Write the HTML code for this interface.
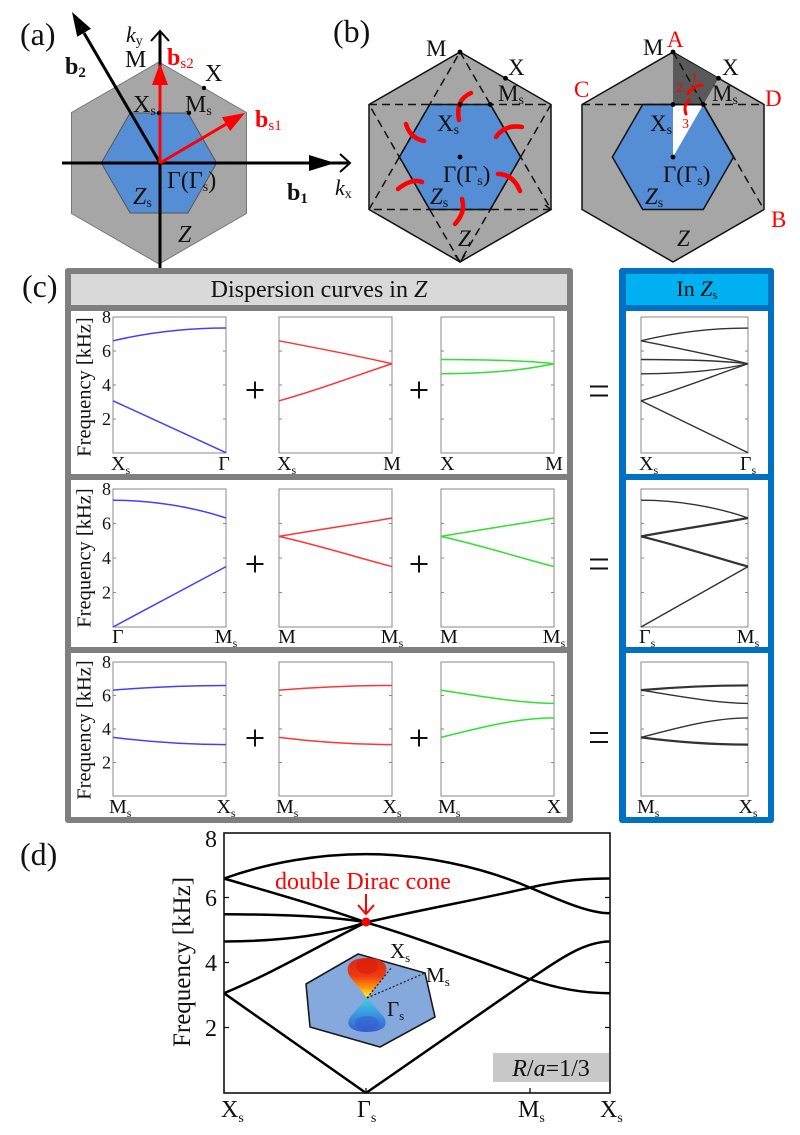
<!DOCTYPE html>
<html><head><meta charset="utf-8"><style>
html,body{margin:0;padding:0;background:#fff;}
svg{display:block;}
text{font-family:"Liberation Serif","Times New Roman",serif;fill:#111;}
</style></head><body>
<svg width="800" height="1135" viewBox="0 0 800 1135" xmlns="http://www.w3.org/2000/svg">
<defs>
<linearGradient id="gUp" x1="0" y1="0" x2="0" y2="1">
<stop offset="0" stop-color="#d82a18"/><stop offset="0.45" stop-color="#ee3a10"/><stop offset="0.75" stop-color="#ff9a10"/><stop offset="1" stop-color="#ffff30"/>
</linearGradient>
<linearGradient id="gDn" x1="0" y1="0" x2="0" y2="1">
<stop offset="0" stop-color="#40d0d8"/><stop offset="0.4" stop-color="#3aa0e0"/><stop offset="1" stop-color="#3a5ad0"/>
</linearGradient>
</defs>
<rect width="800" height="1135" fill="#fff"/>

<!-- ============ (a) ============ -->
<polygon points="159,62 246.5,112.5 246.5,213.5 159,264 71.5,213.5 71.5,112.5" fill="#a6a6a6" stroke="#777" stroke-width="1"/>
<polygon points="216.7,163 187.9,113 130.1,113 101.3,163 130.1,213 187.9,213" fill="#558ed5" stroke="#555" stroke-width="1"/>
<line x1="62" y1="163" x2="348" y2="163" stroke="#000" stroke-width="3"/>
<polygon points="335,163 309,155 309,171" fill="#000"/>
<polyline points="340,154 350,163 340,172" fill="none" stroke="#000" stroke-width="2"/>
<line x1="160" y1="268" x2="160" y2="32" stroke="#000" stroke-width="3"/>
<polyline points="151,41 160,31 169,41" fill="none" stroke="#000" stroke-width="2"/>
<line x1="160" y1="163" x2="84" y2="33" stroke="#000" stroke-width="3"/>
<polygon points="72,12 91,28.7 77.2,36.7" fill="#000"/>
<line x1="160" y1="163" x2="160" y2="84" stroke="#f00" stroke-width="3"/>
<polygon points="160,63 152,85 168,85" fill="#f00"/>
<line x1="160" y1="163" x2="226" y2="124.2" stroke="#f00" stroke-width="3"/>
<polygon points="245,113 230.1,131.1 221.9,117.3" fill="#f00"/>
<circle cx="204" cy="88" r="2.2" fill="#000"/>
<circle cx="159" cy="113" r="2.2" fill="#000"/>
<circle cx="189" cy="113" r="2.2" fill="#000"/>

<text x="20" y="45" font-size="32">(a)</text>
<text x="65" y="74" font-size="24" font-weight="bold">b<tspan font-size="15" dy="3">2</tspan></text>
<text x="126" y="42" font-size="22" font-style="italic">k<tspan font-size="14" dy="3" font-style="normal">y</tspan></text>
<text x="125" y="67" font-size="24">M</text>
<text x="167" y="65" font-size="24" font-weight="bold" style="fill:#f00">b<tspan font-size="15" dy="3" font-weight="normal">s2</tspan></text>
<text x="205" y="81" font-size="24">X</text>
<text x="133" y="112" font-size="24">X<tspan font-size="14" dy="3">s</tspan></text>
<text x="185" y="112" font-size="24">M<tspan font-size="14" dy="3">s</tspan></text>
<text x="255" y="127" font-size="24" font-weight="bold" style="fill:#f00">b<tspan font-size="15" dy="3" font-weight="normal">s1</tspan></text>
<text x="167" y="188" font-size="24">Γ(Γ<tspan font-size="14" dy="3">s</tspan><tspan dy="-3">)</tspan></text>
<text x="287" y="200" font-size="24" font-weight="bold">b<tspan font-size="15" dy="3">1</tspan></text>
<text x="335" y="195" font-size="22" font-style="italic">k<tspan font-size="14" dy="3" font-style="normal">x</tspan></text>
<text x="133" y="204" font-size="24" font-style="italic">Z<tspan font-size="14" dy="3" font-style="normal">s</tspan></text>
<text x="178" y="242" font-size="24" font-style="italic">Z</text>

<!-- ============ (b) left ============ -->
<polygon points="460,52 551,104.5 551,209.5 460,262 369,209.5 369,104.5" fill="#a6a6a6" stroke="#111" stroke-width="1.5"/>
<polygon points="520.6,157 490.3,104.5 429.7,104.5 399.4,157 429.7,209.5 490.3,209.5" fill="#558ed5" stroke="#111" stroke-width="1.5"/>
<g fill="none" stroke="#111" stroke-width="1.5" stroke-dasharray="8,5">
<polygon points="460,52 551,209.5 369,209.5"/>
<polygon points="369,104.5 551,104.5 460,262"/>
</g>
<polyline points="545,205 551,209.5 545,213" fill="none" stroke="#111" stroke-width="1.5"/>
<polyline points="455,255 460,262 465,255" fill="none" stroke="#111" stroke-width="1.5"/>
<g fill="none" stroke="#f00" stroke-width="4.5" stroke-linecap="round">
<path d="M471,93 Q455,100 459,120"/>
<path d="M406,124 Q410,138 424,141"/>
<path d="M496,137 Q505,124 522,127"/>
<path d="M398,189 Q412,178 422,182"/>
<path d="M498,174 Q513,174 520,191"/>
<path d="M455,224 Q466,212 462,199"/>
</g>
<g fill="#000">
<circle cx="460" cy="52" r="2.4"/><circle cx="505.5" cy="78.25" r="2.4"/>
<circle cx="490.3" cy="104.5" r="2.4"/><circle cx="460" cy="104.5" r="2.4"/>
<circle cx="460" cy="157" r="2.4"/>
</g>
<text x="333" y="42" font-size="32">(b)</text>
<text x="426" y="56" font-size="23">M</text>
<text x="508" y="75" font-size="23">X</text>
<text x="498" y="101" font-size="23">M<tspan font-size="14" dy="3">s</tspan></text>
<text x="437" y="131" font-size="23">X<tspan font-size="14" dy="3">s</tspan></text>
<text x="443" y="182" font-size="23">Γ(Γ<tspan font-size="14" dy="3">s</tspan><tspan dy="-3">)</tspan></text>
<text x="430" y="204" font-size="23" font-style="italic">Z<tspan font-size="14" dy="3" font-style="normal">s</tspan></text>
<text x="458" y="246" font-size="23" font-style="italic">Z</text>

<!-- ============ (b) right ============ -->
<polygon points="673,52 764,104.5 764,209.5 673,262 582,209.5 582,104.5" fill="#a6a6a6" stroke="#111" stroke-width="1.5"/>
<polygon points="733.6,157 703.3,104.5 642.7,104.5 612.4,157 642.7,209.5 703.3,209.5" fill="#558ed5" stroke="#111" stroke-width="1.5"/>
<polygon points="673,157 673,105.5 702.7,105.5" fill="#fff"/>
<polygon points="673,52.5 718.5,78.25 703.3,104.5 673,104.5" fill="#595959"/>
<g fill="none" stroke="#111" stroke-width="1.5" stroke-dasharray="8,5">
<line x1="582" y1="104.5" x2="764" y2="104.5"/>
<line x1="673" y1="52" x2="764" y2="209.5"/>
</g>
<line x1="642.7" y1="104.5" x2="703.3" y2="104.5" stroke="#111" stroke-width="1.5"/>
<line x1="703.3" y1="104.5" x2="733.6" y2="157" stroke="#111" stroke-width="1.5"/>
<g fill="none" stroke="#f00" stroke-width="3" stroke-linecap="round">
<path d="M688,94 Q692,86 702,85"/>
<path d="M689,100 Q683,106 686,114"/>
</g>
<g fill="#000">
<circle cx="673" cy="52" r="2.4"/><circle cx="718.5" cy="78.25" r="2.4"/>
<circle cx="703.3" cy="104.5" r="2.4"/><circle cx="673" cy="104.5" r="2.4"/>
<circle cx="673" cy="157" r="2.4"/>
</g>
<text x="643" y="55" font-size="23">M</text>
<text x="722" y="75" font-size="23">X</text>
<text x="712" y="101" font-size="23">M<tspan font-size="14" dy="3">s</tspan></text>
<text x="650" y="131" font-size="23">X<tspan font-size="14" dy="3">s</tspan></text>
<text x="663" y="182" font-size="23">Γ(Γ<tspan font-size="14" dy="3">s</tspan><tspan dy="-3">)</tspan></text>
<text x="645" y="204" font-size="23" font-style="italic">Z<tspan font-size="14" dy="3" font-style="normal">s</tspan></text>
<text x="677" y="246" font-size="23" font-style="italic">Z</text>
<g font-size="23" style="fill:#f00">
<text x="667" y="47" style="fill:#f00">A</text>
<text x="574" y="97" style="fill:#f00">C</text>
<text x="765" y="106" style="fill:#f00">D</text>
<text x="771" y="227" style="fill:#f00">B</text>
</g>
<text x="691" y="82" font-size="14" style="fill:#f00">1</text>
<text x="676" y="92" font-size="14" style="fill:#f00">2</text>
<text x="682" y="128" font-size="14" style="fill:#f00">3</text>

<!-- ============ (c) ============ -->
<text x="22" y="297" font-size="32">(c)</text>
<rect x="65" y="268" width="508" height="555" rx="3" fill="#7f7f7f"/>
<rect x="71" y="274" width="496" height="31" fill="#d9d9d9"/>
<rect x="71" y="311" width="496" height="163" fill="#fff"/>
<rect x="71" y="480" width="496" height="167" fill="#fff"/>
<rect x="71" y="653" width="496" height="164" fill="#fff"/>
<rect x="619" y="268" width="155" height="555" rx="3" fill="#0070c0"/>
<rect x="626" y="274" width="142" height="31" fill="#00b0f0"/>
<rect x="626" y="311" width="142" height="163" fill="#fff"/>
<rect x="626" y="480" width="142" height="167" fill="#fff"/>
<rect x="626" y="653" width="142" height="164" fill="#fff"/>
<text x="319" y="297" font-size="24" text-anchor="middle">Dispersion curves in <tspan font-style="italic">Z</tspan></text>
<text x="697" y="296" font-size="22" text-anchor="middle">In <tspan font-style="italic">Z</tspan><tspan font-size="13" dy="3">s</tspan></text>

<g fill="none" stroke="#8a8a8a" stroke-width="1">
<rect x="113" y="317" width="113" height="136"/><rect x="279" y="317" width="113" height="136"/>
<rect x="441" y="317" width="113" height="136"/><rect x="641" y="317" width="107" height="136"/>
<rect x="113" y="489" width="113" height="138"/><rect x="279" y="489" width="113" height="138"/>
<rect x="441" y="489" width="113" height="138"/><rect x="641" y="489" width="107" height="138"/>
<rect x="113" y="662" width="113" height="134"/><rect x="279" y="662" width="113" height="134"/>
<rect x="441" y="662" width="113" height="134"/><rect x="641" y="662" width="107" height="134"/>
</g>
<g stroke="#8a8a8a" stroke-width="1">
<path d="M113,419h3M113,385h3M113,351h3M226,419h-3M226,385h-3M226,351h-3
M279,419h3M279,385h3M279,351h3M392,419h-3M392,385h-3M392,351h-3
M441,419h3M441,385h3M441,351h3M554,419h-3M554,385h-3M554,351h-3
M641,419h3M641,385h3M641,351h3M748,419h-3M748,385h-3M748,351h-3"/>
<path d="M113,592.5h3M113,558h3M113,523.5h3M226,592.5h-3M226,558h-3M226,523.5h-3
M279,592.5h3M279,558h3M279,523.5h3M392,592.5h-3M392,558h-3M392,523.5h-3
M441,592.5h3M441,558h3M441,523.5h3M554,592.5h-3M554,558h-3M554,523.5h-3
M641,592.5h3M641,558h3M641,523.5h3M748,592.5h-3M748,558h-3M748,523.5h-3"/>
<path d="M113,762.5h3M113,729h3M113,695.5h3M226,762.5h-3M226,729h-3M226,695.5h-3
M279,762.5h3M279,729h3M279,695.5h3M392,762.5h-3M392,729h-3M392,695.5h-3
M441,762.5h3M441,729h3M441,695.5h3M554,762.5h-3M554,729h-3M554,695.5h-3
M641,762.5h3M641,729h3M641,695.5h3M748,762.5h-3M748,729h-3M748,695.5h-3"/>
</g>

<g fill="none" stroke-width="1.5">
<path stroke="#4040ff" d="M113,340.8 C149.6,332.3 189.4,328.05 226,328.05"/>
<path stroke="#4040ff" d="M113,400.8 L226,452.7"/>
<path stroke="#ff3535" d="M279,340.8 C315.6,347.85 355.4,355.2 392,363.75"/>
<path stroke="#ff3535" d="M279,400.8 C319.6,389.7 355.4,375.6 392,363.75"/>
<path stroke="#30e030" d="M441,359.5 C485.5,359.6 525.3,360.4 554,363.75"/>
<path stroke="#30e030" d="M441,373.8 C493.5,373.5 525.3,369.8 554,363.75"/>
</g>
<g fill="none" stroke="#333" stroke-width="1.4">
<path d="M641,340.8 C675.7,332.3 713.3,328.05 748,328.05"/>
<path d="M641,340.8 C675.7,347.85 713.3,355.2 748,363.75"/>
<path d="M641,359.5 C683.2,359.6 720.8,360.4 748,363.75"/>
<path d="M641,373.8 C690.8,373.5 720.8,369.8 748,363.75"/>
<path d="M641,400.8 C679.4,389.7 713.3,375.6 748,363.75"/>
<path d="M641,400.8 L748,452.7"/>
</g>
<g fill="none" stroke-width="1.5">
<path stroke="#4040ff" d="M113,500.2 C150.2,500.2 191.5,506.5 226,518"/>
<path stroke="#4040ff" d="M113,627 L226,566.6"/>
<path stroke="#ff3535" d="M279,536.4 C316.2,529.9 357.5,524 392,518"/>
<path stroke="#ff3535" d="M279,536.4 C316.2,544.7 357.5,557.5 392,566.6"/>
<path stroke="#30e030" d="M441,536.4 C478.2,529.9 519.5,524 554,518"/>
<path stroke="#30e030" d="M441,536.4 C478.2,544.7 519.5,557.5 554,566.6"/>
</g>
<g fill="none" stroke="#333">
<path stroke-width="1.4" d="M641,500.2 C676.2,500.2 715.4,506.5 748,518"/>
<path stroke-width="2.2" d="M641,536.4 C676.2,529.9 715.4,524 748,518"/>
<path stroke-width="2.2" d="M641,536.4 C676.2,544.7 715.4,557.5 748,566.6"/>
<path stroke-width="1.4" d="M641,627 L748,566.6"/>
</g>
<g fill="none" stroke-width="1.5">
<path stroke="#4040ff" d="M113,690.1 C162.4,686.2 197.75,685.45 226,685.45"/>
<path stroke="#4040ff" d="M113,737.4 C155.4,742.7 190.7,744.6 226,744.6"/>
<path stroke="#ff3535" d="M279,690.1 C328.4,686.2 363.75,685.45 392,685.45"/>
<path stroke="#ff3535" d="M279,737.4 C321.4,742.7 356.7,744.6 392,744.6"/>
<path stroke="#30e030" d="M441,690.1 C490.4,698 525.75,703.4 554,703.4"/>
<path stroke="#30e030" d="M441,737.4 C483.4,726.7 518.7,717.9 554,717.9"/>
</g>
<g fill="none" stroke="#333">
<path stroke-width="2.2" d="M641,690.1 C687.8,686.2 721.25,685.45 748,685.45"/>
<path stroke-width="1.4" d="M641,690.1 C687.8,698 721.25,703.4 748,703.4"/>
<path stroke-width="1.4" d="M641,737.4 C681.1,726.7 714.6,717.9 748,717.9"/>
<path stroke-width="2.2" d="M641,737.4 C681.1,742.7 714.6,744.6 748,744.6"/>
</g>

<g stroke="#111" stroke-width="2">
<path d="M246.5,390h17M255,381.5v17 M410.5,390h17M419,381.5v17 M590,386.5h18M590,395.5h18"/>
<path d="M246.5,564h17M255,555.5v17 M410.5,564h17M419,555.5v17 M590,559.5h18M590,568.5h18"/>
<path d="M246.5,738h17M255,729.5v17 M410.5,738h17M419,729.5v17 M590,733h18M590,742h18"/>
</g>

<g font-size="18" text-anchor="end">
<text x="111" y="323">8</text><text x="111" y="357">6</text><text x="111" y="391">4</text><text x="111" y="425">2</text>
<text x="111" y="495">8</text><text x="111" y="529.5">6</text><text x="111" y="564">4</text><text x="111" y="598.5">2</text>
<text x="111" y="668">8</text><text x="111" y="701.5">6</text><text x="111" y="735">4</text><text x="111" y="768.5">2</text>
</g>
<text transform="translate(90.5,387) rotate(-90)" font-size="20.5" text-anchor="middle">Frequency [kHz]</text>
<text transform="translate(90.5,558) rotate(-90)" font-size="20.5" text-anchor="middle">Frequency [kHz]</text>
<text transform="translate(90.5,730) rotate(-90)" font-size="20.5" text-anchor="middle">Frequency [kHz]</text>

<g font-size="20">
<text x="111" y="470">X<tspan font-size="12" dy="4">s</tspan></text>
<text x="224" y="470" text-anchor="middle">Γ</text>
<text x="277" y="470">X<tspan font-size="12" dy="4">s</tspan></text>
<text x="392" y="470" text-anchor="middle">M</text>
<text x="440" y="470">X</text>
<text x="554" y="470" text-anchor="middle">M</text>
<text x="639" y="470">X<tspan font-size="12" dy="4">s</tspan></text>
<text x="748" y="470" text-anchor="middle">Γ<tspan font-size="12" dy="4">s</tspan></text>

<text x="112" y="643">Γ</text>
<text x="226" y="643" text-anchor="middle">M<tspan font-size="12" dy="4">s</tspan></text>
<text x="278" y="643">M</text>
<text x="392" y="643" text-anchor="middle">M<tspan font-size="12" dy="4">s</tspan></text>
<text x="440" y="643">M</text>
<text x="554" y="643" text-anchor="middle">M<tspan font-size="12" dy="4">s</tspan></text>
<text x="639" y="643">Γ<tspan font-size="12" dy="4">s</tspan></text>
<text x="748" y="643" text-anchor="middle">M<tspan font-size="12" dy="4">s</tspan></text>

<text x="109" y="813">M<tspan font-size="12" dy="4">s</tspan></text>
<text x="226" y="813" text-anchor="middle">X<tspan font-size="12" dy="4">s</tspan></text>
<text x="276" y="813">M<tspan font-size="12" dy="4">s</tspan></text>
<text x="392" y="813" text-anchor="middle">X<tspan font-size="12" dy="4">s</tspan></text>
<text x="438" y="813">M<tspan font-size="12" dy="4">s</tspan></text>
<text x="554" y="813" text-anchor="middle">X</text>
<text x="637" y="813">M<tspan font-size="12" dy="4">s</tspan></text>
<text x="748" y="813" text-anchor="middle">X<tspan font-size="12" dy="4">s</tspan></text>
</g>

<!-- ============ (d) ============ -->
<text x="20" y="865" font-size="32">(d)</text>
<g fill="none" stroke="#000" stroke-width="2.5">
<path d="M224,878.5 C270,862 320,854.1 366,854.1"/>
<path d="M224,878.5 C270,892 320,906 366,922.4"/>
<path d="M224,914.25 C280,914.5 330,916 366,922.4"/>
<path d="M224,941.55 C290,941 330,934 366,922.4"/>
<path d="M224,993.2 C275,972 320,945 366,922.4"/>
<path d="M224,993.2 L366,1093"/>
<path d="M366,854.1 C420,854.1 480,866 530,887.6"/>
<path d="M366,922.4 C420,910 480,899 530,887.6"/>
<path d="M366,922.4 C420,938 480,962 530,979.25"/>
<path d="M366,1093 L530,979.25"/>
<path d="M530,887.6 C565,879.6 590,878.5 610,878.5"/>
<path d="M530,887.6 C565,902.6 590,913.3 610,913.3"/>
<path d="M530,979.25 C560,958.4 585,941.55 610,941.55"/>
<path d="M530,979.25 C560,989.7 585,993.2 610,993.2"/>
</g>
<rect x="224" y="833" width="386" height="260" fill="none" stroke="#111" stroke-width="1.6"/>
<g stroke="#111" stroke-width="1.3">
<path d="M224,897.5h5M224,962.5h5M224,1027.5h5M610,897.5h-5M610,962.5h-5M610,1027.5h-5M366,1093v-5M530,1093v-5"/>
</g>
<polygon points="306,984 358,954 425,973 435,1017 380,1047 310,1027" fill="#85a9dd" stroke="#1a1a1a" stroke-width="1.6"/>
<path d="M367,998 L351,978 C344,969 347,958 367,958 C387,958 390,969 383,978 Z" fill="url(#gUp)"/>
<ellipse cx="367" cy="966" rx="11" ry="8" fill="#e01c08" opacity="0.7"/>
<path d="M367,998 L351,1016 C344,1025 351,1032 367,1032 C383,1032 390,1025 383,1016 Z" fill="url(#gDn)"/>
<ellipse cx="367" cy="1023" rx="12" ry="7" fill="#2f55d0" opacity="0.5"/>
<g stroke="#222" stroke-width="1.3" stroke-dasharray="2,2" fill="none">
<line x1="367" y1="998" x2="392" y2="967"/>
<line x1="367" y1="998" x2="425" y2="973"/>
</g>
<text x="390" y="958" font-size="21">X<tspan font-size="13" dy="4">s</tspan></text>
<text x="426" y="982" font-size="21">M<tspan font-size="13" dy="4">s</tspan></text>
<text x="387" y="1016" font-size="21">Γ<tspan font-size="13" dy="4">s</tspan></text>

<text x="275" y="889" font-size="24" style="fill:#f00">double Dirac cone</text>
<g stroke="#f00" stroke-width="2" fill="none">
<line x1="366" y1="894" x2="366" y2="913"/>
<polyline points="358,905 366,914 374,905"/>
</g>
<circle cx="366" cy="922" r="4.5" fill="#f00"/>

<rect x="493" y="1053" width="116" height="29" fill="#c8c8c8"/>
<text x="551" y="1076" font-size="24" text-anchor="middle"><tspan font-style="italic">R</tspan>/<tspan font-style="italic">a</tspan>=1/3</text>

<g font-size="24" text-anchor="end">
<text x="217" y="847">8</text><text x="217" y="906">6</text><text x="217" y="971">4</text><text x="217" y="1036">2</text>
</g>
<text transform="translate(190,962) rotate(-90)" font-size="25" text-anchor="middle">Frequency [kHz]</text>
<g font-size="24">
<text x="221" y="1117">X<tspan font-size="14" dy="5">s</tspan></text>
<text x="357" y="1117">Γ<tspan font-size="14" dy="5">s</tspan></text>
<text x="518" y="1117">M<tspan font-size="14" dy="5">s</tspan></text>
<text x="600" y="1117">X<tspan font-size="14" dy="5">s</tspan></text>
</g>
</svg>
</body></html>
